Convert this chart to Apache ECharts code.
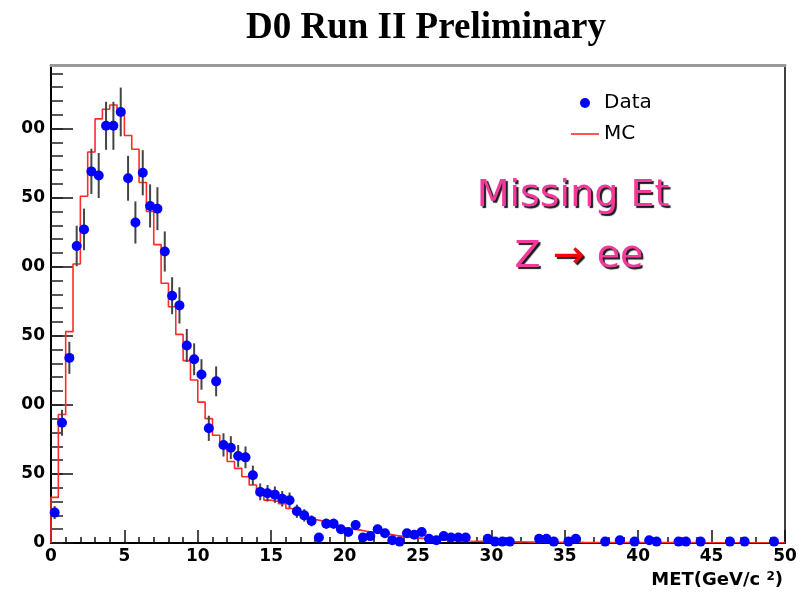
<!DOCTYPE html>
<html>
<head>
<meta charset="utf-8">
<script src="https://cdn.jsdelivr.net/npm/echarts@6/dist/echarts.min.js"></script>
<style>
  html, body { margin: 0; padding: 0; background: #fff; }
  #chart { width: 804px; height: 605px; }
</style>
</head>
<body>
<div id="chart"></div>
<script>
// Missing transverse energy, Z -> ee events: 100 bins of 0.5 GeV from 0 to 50
const binLow = 0;
const binWidth = 0.5;

// Observed event counts per bin
const dataCounts = [
  22, 87, 134, 215, 227, 269, 266, 302, 302, 312,
  264, 232, 268, 244, 242, 211, 179, 172, 143, 133,
  122, 83, 117, 71, 69, 63, 62, 49, 37, 36,
  35, 32, 31, 23, 20, 16, 4, 14, 14, 10,
  8, 13, 4, 5, 10, 7, 2, 1, 7, 6,
  8, 3, 2, 5, 4, 4, 4, 0, 0, 3,
  1, 1, 1, 0, 0, 0, 3, 3, 1, 0,
  1, 3, 0, 0, 0, 1, 0, 2, 0, 1,
  0, 2, 1, 0, 0, 1, 1, 0, 1, 0,
  0, 0, 1, 0, 1, 0, 0, 0, 1, 0
];

// Simulated (MC) expectation per bin
const mcCounts = [
  33, 93, 153, 202, 251, 283, 307, 314, 317, 314,
  295, 285, 261, 240, 216, 188, 171, 151, 132, 118,
  102, 90, 78, 71, 59, 54, 48, 42, 35, 31,
  30, 28.5, 25, 21.5, 19.5, 17, 16, 14.5, 13, 11,
  10, 9.5, 8.5, 7.8, 7, 6.5, 5.5, 4.8, 4.2, 3.7,
  3.2, 2.7, 2.4, 2.1, 1.8, 1.6, 1.4, 1.3, 1.2, 1.1,
  1.0, 0.9, 0.85, 0.8, 0.7, 0.65, 0.6, 0.55, 0.5, 0.5,
  0.45, 0.45, 0.4, 0.4, 0.4, 0.35, 0.35, 0.35, 0.3, 0.3,
  0.3, 0.3, 0.3, 0.25, 0.25, 0.25, 0.25, 0.2, 0.2, 0.2,
  0.2, 0.2, 0.2, 0.15, 0.15, 0.15, 0.15, 0.15, 0.15, 0.15
];

const xMin = 0, xMax = 50, xStep = 5;
const yTicks = [0, 50, 100, 150, 200, 250, 300];
const yMinorStep = 10;
const yMax = 346;

// Minor y ticks every 10 events up to the top of the frame
const yMinorTicks = [];
for (let v = 0; v <= yMax; v += yMinorStep) yMinorTicks.push(v);

// Step outline of the MC histogram: one point per lower bin edge
const nBins = mcCounts.length;
const mcOutline = [[binLow, 0]]
  .concat(mcCounts.map((v, i) => [binLow + i * binWidth, v]))
  .concat([[binLow + nBins * binWidth, mcCounts[nBins - 1]]]);

// Data points at bin centres; empty bins are not drawn
const dataPoints = dataCounts
  .map((n, i) => [binLow + (i + 0.5) * binWidth, n])
  .filter(p => p[1] > 0);

const tickFont = { fontFamily: 'DejaVu Sans', fontWeight: 'bold', fontSize: 17, color: '#000' };
const pink = '#f5389c';
const shadow = { textShadowColor: '#1a1a1a', textShadowOffsetX: 2, textShadowOffsetY: 2, textShadowBlur: 1 };

const chart = echarts.init(document.getElementById('chart'), null, { renderer: 'canvas' });

chart.setOption({
  animation: false,
  backgroundColor: '#fff',
  title: {
    text: 'D0 Run II Preliminary',
    left: 421,
    top: 5,
    textAlign: 'center',
    textStyle: { fontFamily: 'Liberation Serif', fontWeight: 'bold', fontSize: 37, color: '#000' }
  },
  legend: {
    orient: 'vertical',
    left: 566,
    top: 88,
    itemWidth: 28,
    itemHeight: 10,
    itemGap: 11,
    selectedMode: false,
    data: [
      { name: 'Data', icon: 'circle' },
      { name: 'MC', icon: 'path://M0,0H28V1.6H0Z' }
    ],
    textStyle: { fontFamily: 'DejaVu Sans', fontSize: 20, color: '#000' }
  },
  grid: { left: 51, right: 19, top: 65, bottom: 62, containLabel: false },
  xAxis: [
    {
      type: 'value',
      min: xMin,
      max: xMax,
      interval: xStep,
      axisLine: { onZero: false, lineStyle: { color: '#000', width: 2 } },
      axisTick: { inside: true, length: 13, lineStyle: { color: '#111', width: 1.5 } },
      minorTick: { show: true, splitNumber: 5, length: 6, lineStyle: { color: '#111', width: 1.5 } },
      axisLabel: Object.assign({ margin: 5 }, tickFont),
      splitLine: { show: false },
      name: 'MET(GeV/c {sup|2})',
      nameLocation: 'end',
      nameGap: -2,
      nameTextStyle: {
        fontFamily: 'DejaVu Sans', fontWeight: 'bold', fontSize: 18, color: '#000',
        align: 'right', verticalAlign: 'top', padding: [28, 0, 0, 0],
        rich: { sup: { fontFamily: 'DejaVu Sans', fontWeight: 'bold', fontSize: 12, color: '#000', verticalAlign: 'top' } }
      }
    },
    {
      type: 'value',
      min: xMin,
      max: xMax,
      position: 'top',
      axisLine: { onZero: false, lineStyle: { color: '#999', width: 3 } },
      axisTick: { show: false },
      axisLabel: { show: false },
      splitLine: { show: false }
    }
  ],
  yAxis: [
    {
      type: 'value',
      min: 0,
      max: yMax,
      position: 'left',
      axisLine: { show: true, onZero: false, lineStyle: { color: '#000', width: 2 } },
      axisTick: { show: true, inside: true, length: 22, customValues: yTicks, lineStyle: { color: '#111', width: 1.5 } },
      axisLabel: Object.assign({ margin: 6, customValues: yTicks }, tickFont),
      splitLine: { show: false }
    },
    {
      type: 'value',
      min: 0,
      max: yMax,
      position: 'left',
      axisLine: { show: false },
      axisTick: { show: true, inside: true, length: 12, customValues: yMinorTicks, lineStyle: { color: '#222', width: 1.5 } },
      axisLabel: { show: false },
      splitLine: { show: false }
    },
    {
      type: 'value',
      min: 0,
      max: yMax,
      position: 'right',
      axisLine: { show: true, onZero: false, lineStyle: { color: '#000', width: 1.5 } },
      axisTick: { show: false },
      axisLabel: { show: false },
      splitLine: { show: false }
    }
  ],
  series: [
    {
      name: 'MC',
      type: 'line',
      step: 'end',
      symbol: 'none',
      data: mcOutline,
      lineStyle: { color: '#ff2a2a', width: 1.6 },
      itemStyle: { color: '#ff2a2a' },
      z: 2
    },
    {
      name: 'Data errors',
      type: 'custom',
      data: dataPoints,
      encode: { x: 0, y: 1 },
      z: 3,
      renderItem: function (params, api) {
        const x = api.value(0);
        const n = api.value(1);
        const e = Math.sqrt(n);
        const lo = api.coord([x, Math.max(0, n - e)]);
        const hi = api.coord([x, n + e]);
        return {
          type: 'line',
          shape: { x1: lo[0], y1: lo[1], x2: hi[0], y2: hi[1] },
          style: { stroke: '#444', lineWidth: 2 }
        };
      }
    },
    {
      name: 'Data',
      type: 'scatter',
      symbol: 'circle',
      symbolSize: 10,
      data: dataPoints,
      itemStyle: { color: '#0000ff', opacity: 1 },
      z: 4
    }
  ],
  graphic: [
    {
      // the pad edge cuts into the y tick labels
      type: 'rect',
      left: 0,
      top: 60,
      shape: { width: 21, height: 510 },
      style: { fill: '#fff' },
      z: 100
    },
    {
      type: 'text',
      x: 573,
      y: 196,
      style: Object.assign({
        text: 'Missing Et',
        fill: pink,
        font: '38px "DejaVu Sans"',
        textAlign: 'center',
        textVerticalAlign: 'middle'
      }, shadow),
      z: 50
    },
    {
      type: 'text',
      x: 579,
      y: 257,
      style: Object.assign({
        text: '{p|Z} {a|\u2192} {p|ee}',
        font: '38px "DejaVu Sans"',
        textAlign: 'center',
        textVerticalAlign: 'middle',
        rich: {
          p: Object.assign({ fill: pink, font: '38px "DejaVu Sans"' }, shadow),
          a: Object.assign({ fill: '#ff0000', font: '38px "DejaVu Sans"' }, shadow)
        }
      }, shadow),
      z: 50
    }
  ]
});
</script>
</body>
</html>
